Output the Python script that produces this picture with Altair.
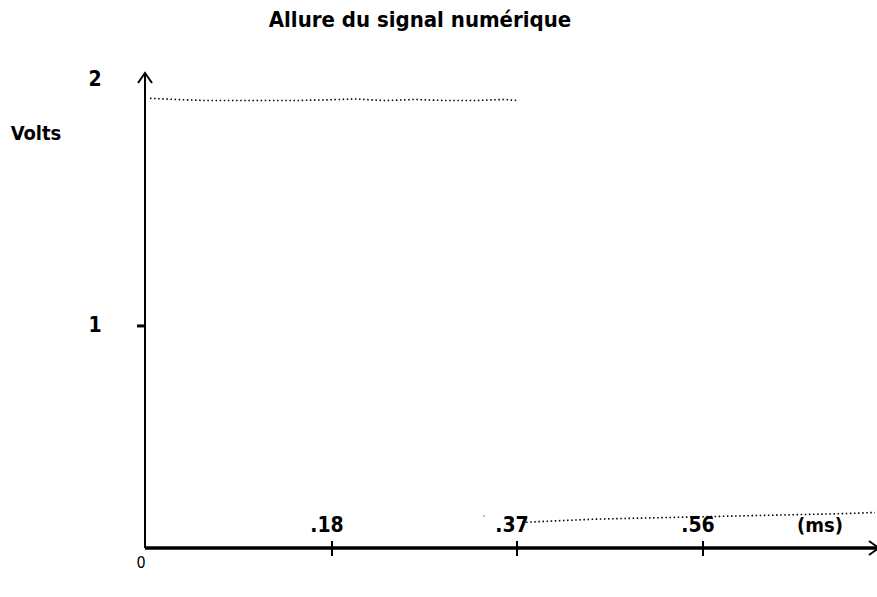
import altair as alt
import pandas as pd

# ---- data ----
high_t = [0.005, 0.03, 0.06, 0.09, 0.12, 0.15, 0.18, 0.21, 0.24, 0.27, 0.30, 0.33, 0.36, 0.372]
high_v = [2.025, 2.02, 2.015, 2.015, 2.015, 2.015, 2.018, 2.022, 2.015, 2.02, 2.015, 2.015, 2.02, 2.015]
low_t = [0.377, 0.40, 0.45, 0.50, 0.55, 0.60, 0.65, 0.70, 0.73]
low_v = [0.115, 0.12, 0.13, 0.135, 0.14, 0.145, 0.15, 0.155, 0.16]
stray_t = [0.339]
stray_v = [0.144]
tick_t = [0.187, 0.372, 0.558]
tick_labels = [".18", ".37", ".56"]

FONT = "Liberation Sans Narrow, DejaVu Sans Condensed, DejaVu Sans, sans-serif"
W, H = 730, 473

xs = alt.Scale(domain=[0, 0.73], nice=False, zero=False)
ys = alt.Scale(domain=[0, 2.13], nice=False, zero=False)

high = pd.DataFrame({"t": high_t, "v": high_v})
low = pd.DataFrame({"t": low_t, "v": low_v})
stray = pd.DataFrame({"t": stray_t, "v": stray_v})
ticks = pd.DataFrame({"t": tick_t, "label": tick_labels})
one = pd.DataFrame({"a": [0]})

def sig(df):
    return alt.Chart(df).mark_line(
        color="black", strokeWidth=1.6, strokeDash=[1.5, 2.6], clip=False
    ).encode(
        x=alt.X("t:Q", scale=xs, axis=None),
        y=alt.Y("v:Q", scale=ys, axis=None),
    )

stray_pt = alt.Chart(stray).mark_square(size=3, color="#aaaaaa", opacity=1).encode(
    x=alt.X("t:Q", scale=xs, axis=None), y=alt.Y("v:Q", scale=ys, axis=None)
)

yaxis = alt.Chart(one).mark_rule(color="black", strokeWidth=2).encode(
    x=alt.value(0), y=alt.value(0), y2=alt.value(H)
)
xaxis = alt.Chart(one).mark_rule(color="black", strokeWidth=3.5).encode(
    x=alt.value(0), x2=alt.value(W + 2), y=alt.value(H)
)
up_arrow = alt.Chart(one).mark_point(
    shape="M-0.7,1L0,0L0.7,1", size=400, filled=False, color="black", strokeWidth=2, opacity=1
).encode(x=alt.value(0), y=alt.value(-2))
right_arrow = alt.Chart(one).mark_point(
    shape="M-1,-0.7L0,0L-1,0.7", size=400, filled=False, color="black", strokeWidth=2, opacity=1
).encode(x=alt.value(W + 4), y=alt.value(H))
ytick = alt.Chart(one).mark_rule(color="black", strokeWidth=3).encode(
    x=alt.value(-8), x2=alt.value(0), y=alt.datum(1, scale=ys)
)
xticks = alt.Chart(ticks).mark_rule(color="black", strokeWidth=2).encode(
    x=alt.X("t:Q", scale=xs, axis=None), y=alt.value(H - 7), y2=alt.value(H + 8)
)
xlabels = alt.Chart(ticks).mark_text(
    font=FONT, fontSize=21, fontWeight="bold", baseline="middle", align="center", dx=-5
).encode(x=alt.X("t:Q", scale=xs, axis=None), y=alt.value(H - 22), text="label:N")

def label(txt, x, y, size=18, weight="bold", align="center"):
    return alt.Chart(one).mark_text(
        text=txt, font=FONT, fontSize=size, fontWeight=weight,
        baseline="middle", align=align, color="black"
    ).encode(x=alt.value(x), y=alt.value(y))

texts = [
    label("Allure du signal numérique", 275, -55, size=22),
    label("Volts", -109, 59, size=20),
    label("2", -50, 5, size=21),
    label("1", -50, 251, size=21),
    label("0", -4, H + 15, size=16, weight="normal"),
    label("(ms)", 675, H - 22, size=20),
]

chart = alt.layer(
    sig(high), sig(low), stray_pt, yaxis, xaxis, up_arrow, right_arrow, ytick, xticks, xlabels, *texts
).properties(
    width=W, height=H,
    autosize=alt.AutoSizeParams(type="none"),
    padding={"left": 145, "top": 75, "right": 2, "bottom": 49},
    background="white",
).configure_view(stroke=None)

chart.save("out.html", embed_options={"renderer": "svg", "actions": False})
